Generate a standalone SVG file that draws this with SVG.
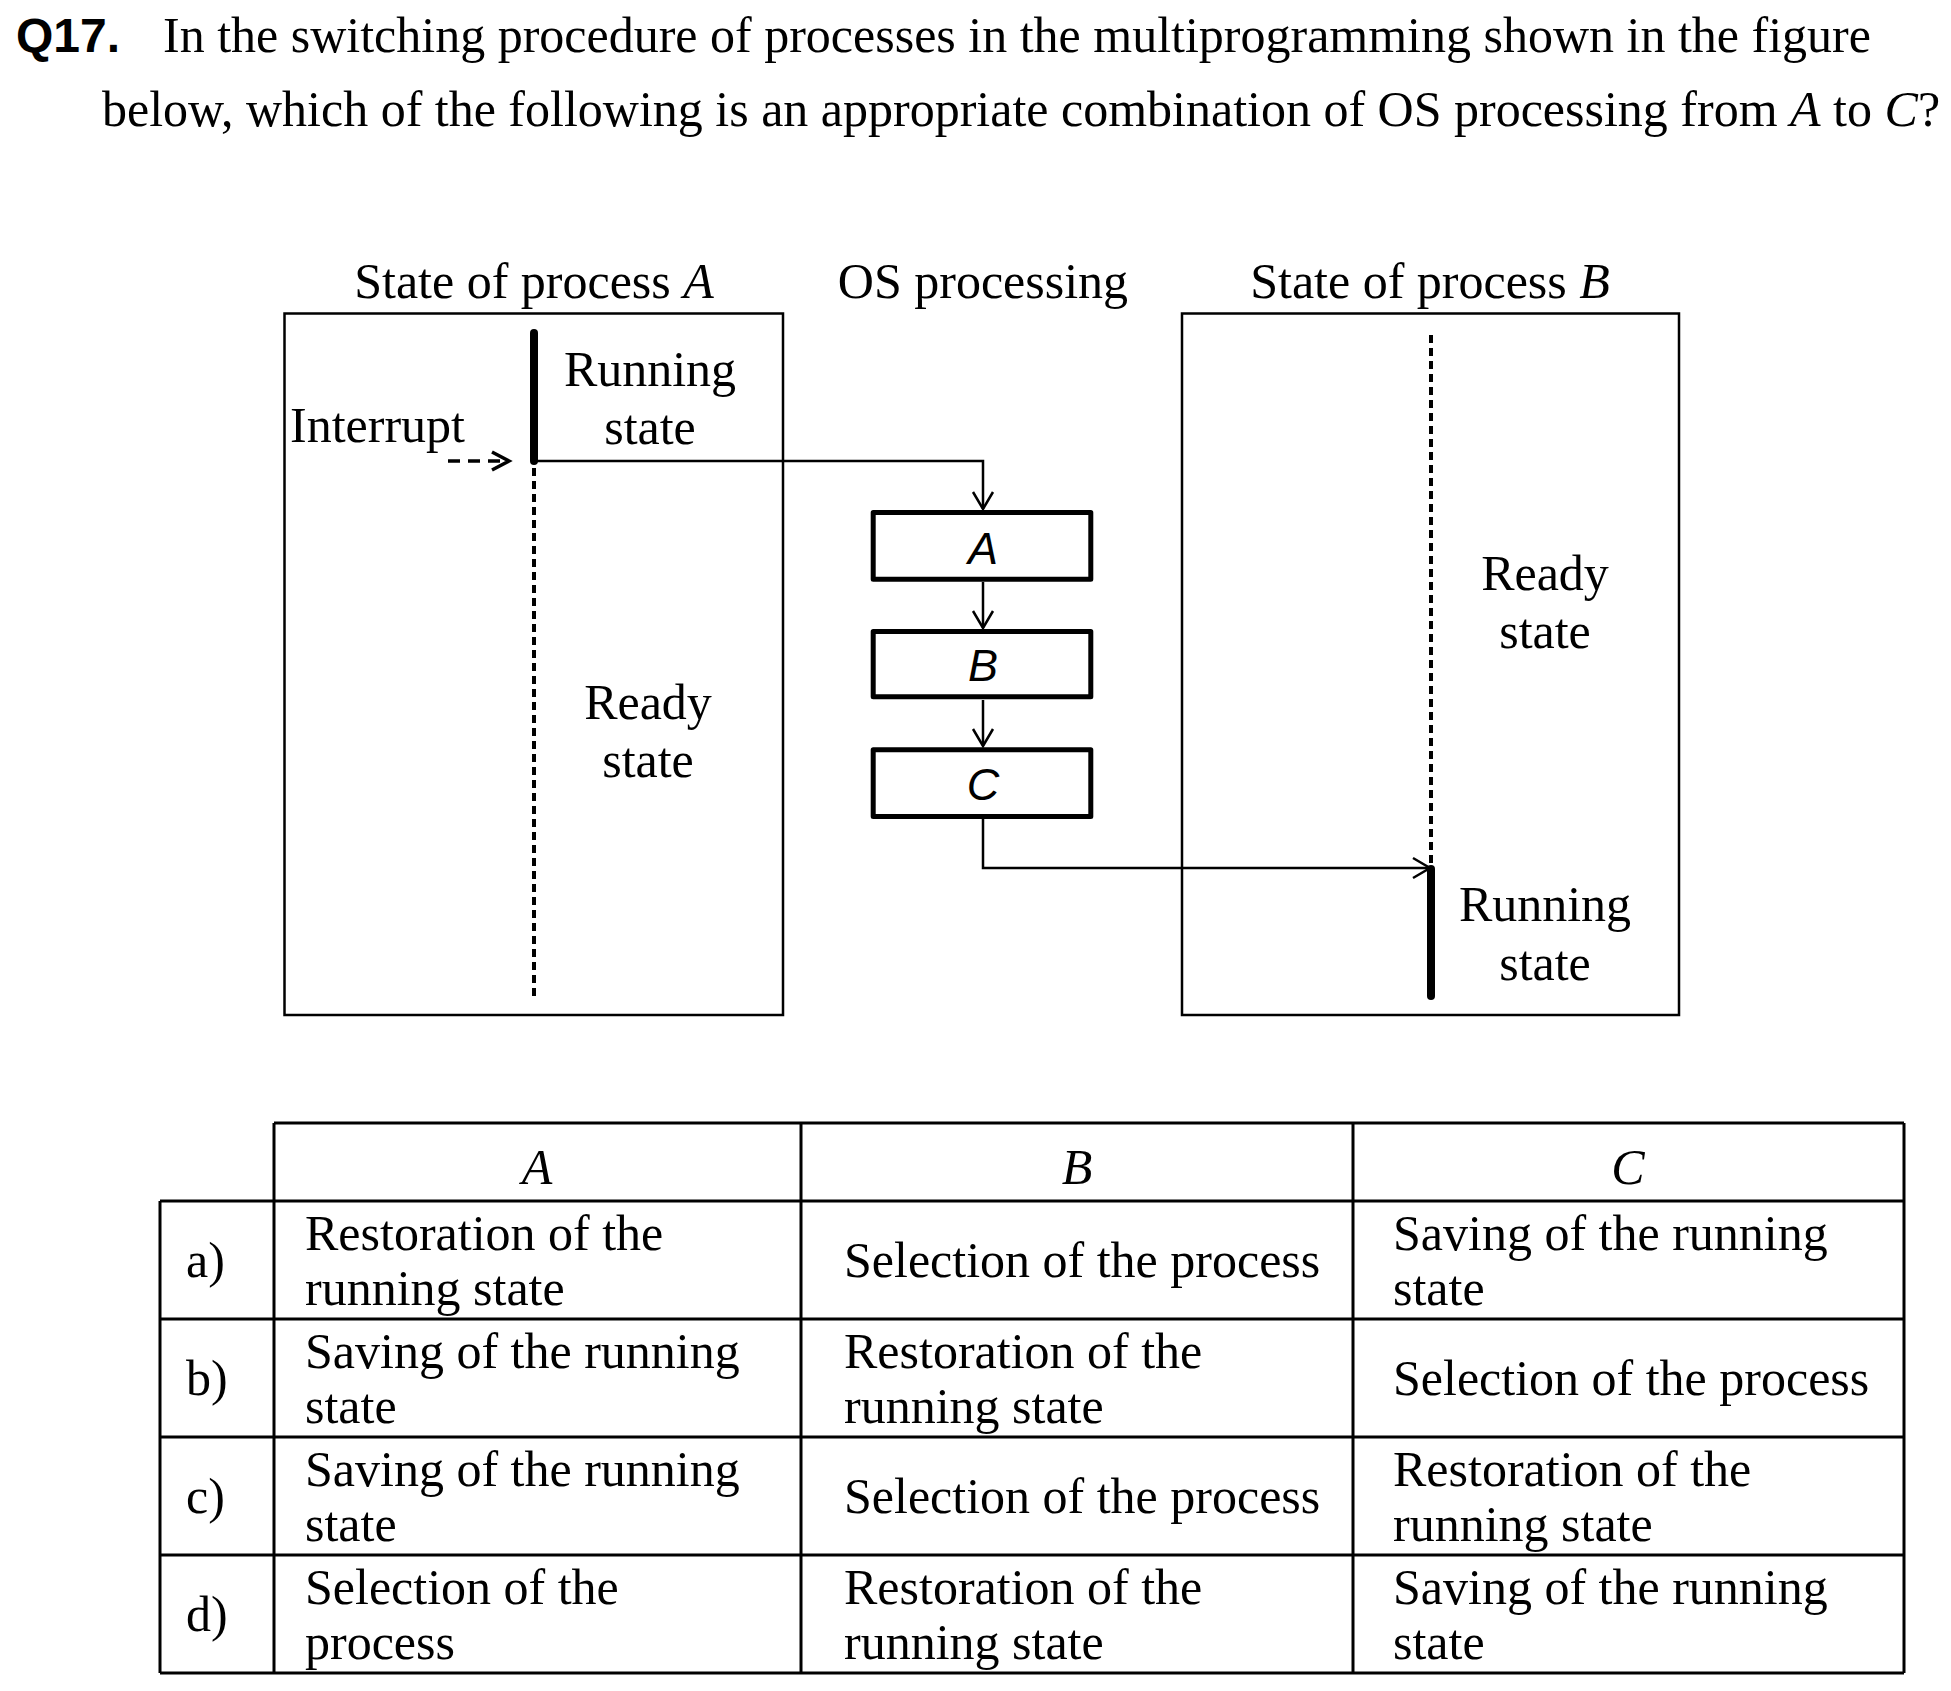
<svg xmlns="http://www.w3.org/2000/svg" width="1951" height="1691" viewBox="0 0 1951 1691">
<style>
text{font-family:"Liberation Serif","Times New Roman",serif;font-size:50px;fill:#000}
.i{font-style:italic}
.c{text-anchor:middle}
.q{font-family:"Liberation Sans",Arial,sans-serif;font-weight:bold;font-size:48px}
.bl{font-family:"Liberation Sans",Arial,sans-serif;font-style:italic;font-size:45px;text-anchor:middle}
.frame{fill:none;stroke:#000;stroke-width:2.5}
.op{fill:#fff;stroke:#000;stroke-width:5;stroke-linejoin:round}
.conn{fill:none;stroke:#000;stroke-width:2.5}
.thick{stroke:#000;stroke-width:8;stroke-linecap:round}
.dot{stroke:#000;stroke-width:4;stroke-dasharray:8 5}
.tbl{stroke:#000;stroke-width:3;fill:none}
</style>
<defs>
<marker id="arr" markerUnits="userSpaceOnUse" markerWidth="30" markerHeight="30" viewBox="-20 -15 30 30" refX="0" refY="0" orient="auto" overflow="visible">
<path d="M-17,-10 L0,0 L-17,10" fill="none" stroke="#000" stroke-width="2.5"/>
</marker>
<marker id="arr2" markerUnits="userSpaceOnUse" markerWidth="30" markerHeight="30" viewBox="-20 -15 30 30" refX="0" refY="0" orient="auto" overflow="visible">
<path d="M-17,-9 L0,0 L-17,9" fill="none" stroke="#000" stroke-width="3.5"/>
</marker>
</defs>
<rect width="1951" height="1691" fill="#fff"/>

<g id="title">
<text x="16" y="52" class="q">Q17.</text>
<text x="163" y="52">In the switching procedure of processes in the multiprogramming shown in the figure</text>
<text x="102" y="126">below, which of the following is an appropriate combination of OS processing from <tspan class="i">A</tspan> to <tspan class="i">C</tspan>?</text>
</g>

<g id="headers">
<text x="534" y="298" class="c">State of process <tspan class="i">A</tspan></text>
<text x="983" y="298" class="c">OS processing</text>
<text x="1430" y="298" class="c">State of process <tspan class="i">B</tspan></text>
</g>

<g id="processA">
<rect x="284.5" y="313.5" width="498.5" height="701.5" class="frame"/>
<line x1="534" y1="333" x2="534" y2="461" class="thick"/>
<line x1="534" y1="468" x2="534" y2="998" class="dot"/>
<text x="650" y="386" class="c">Running</text>
<text x="650" y="444" class="c">state</text>
<text x="648" y="719" class="c">Ready</text>
<text x="648" y="777" class="c">state</text>
<text x="290" y="442">Interrupt</text>
</g>

<g id="processB">
<rect x="1182" y="313.5" width="497" height="701.5" class="frame"/>
<line x1="1431" y1="335" x2="1431" y2="866" class="dot"/>
<line x1="1431" y1="869" x2="1431" y2="996" class="thick"/>
<text x="1545" y="590" class="c">Ready</text>
<text x="1545" y="648" class="c">state</text>
<text x="1545" y="921" class="c">Running</text>
<text x="1545" y="980" class="c">state</text>
</g>

<g id="opA">
<rect x="873.2" y="512.5" width="217.6" height="66.7" class="op"/>
<text x="983" y="564" class="bl">A</text>
</g>
<g id="opB">
<rect x="873.2" y="631.5" width="217.6" height="65.3" class="op"/>
<text x="983" y="681" class="bl">B</text>
</g>
<g id="opC">
<rect x="873.2" y="749.8" width="217.6" height="66.7" class="op"/>
<text x="983" y="800" class="bl">C</text>
</g>

<g id="connectors">
<path d="M536,461 H983 V509" class="conn" marker-end="url(#arr)"/>
<path d="M983,582 V628" class="conn" marker-end="url(#arr)"/>
<path d="M983,700 V746" class="conn" marker-end="url(#arr)"/>
<path d="M983,819 V868 H1430" class="conn" marker-end="url(#arr)"/>
<path d="M448,461 H509" fill="none" stroke="#000" stroke-width="3.5" stroke-dasharray="12 8" marker-end="url(#arr2)"/>
</g>

<g id="table">
<g class="tbl">
<line x1="274" y1="1123" x2="1904" y2="1123"/>
<line x1="160" y1="1201" x2="1904" y2="1201"/>
<line x1="160" y1="1319" x2="1904" y2="1319"/>
<line x1="160" y1="1437" x2="1904" y2="1437"/>
<line x1="160" y1="1555" x2="1904" y2="1555"/>
<line x1="160" y1="1673" x2="1904" y2="1673"/>
<line x1="160" y1="1201" x2="160" y2="1673"/>
<line x1="274" y1="1123" x2="274" y2="1673"/>
<line x1="801" y1="1123" x2="801" y2="1673"/>
<line x1="1353" y1="1123" x2="1353" y2="1673"/>
<line x1="1904" y1="1123" x2="1904" y2="1673"/>
</g>
<text x="537" y="1184" class="c i">A</text>
<text x="1077" y="1184" class="c i">B</text>
<text x="1628" y="1184" class="c i">C</text>

<text x="186" y="1277">a)</text>
<text x="186" y="1395">b)</text>
<text x="186" y="1513">c)</text>
<text x="186" y="1631">d)</text>

<text x="305" y="1250">Restoration of the</text>
<text x="305" y="1305">running state</text>
<text x="844" y="1277">Selection of the process</text>
<text x="1393" y="1250">Saving of the running</text>
<text x="1393" y="1305">state</text>

<text x="305" y="1368">Saving of the running</text>
<text x="305" y="1423">state</text>
<text x="844" y="1368">Restoration of the</text>
<text x="844" y="1423">running state</text>
<text x="1393" y="1395">Selection of the process</text>

<text x="305" y="1486">Saving of the running</text>
<text x="305" y="1541">state</text>
<text x="844" y="1513">Selection of the process</text>
<text x="1393" y="1486">Restoration of the</text>
<text x="1393" y="1541">running state</text>

<text x="305" y="1604">Selection of the</text>
<text x="305" y="1659">process</text>
<text x="844" y="1604">Restoration of the</text>
<text x="844" y="1659">running state</text>
<text x="1393" y="1604">Saving of the running</text>
<text x="1393" y="1659">state</text>
</g>
</svg>
